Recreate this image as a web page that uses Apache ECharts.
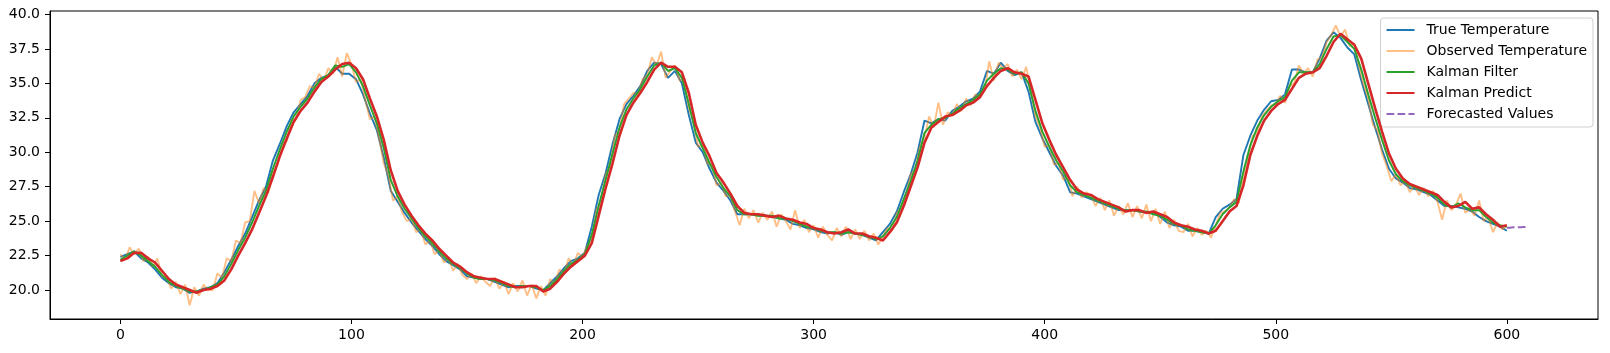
<!DOCTYPE html>
<html>
<head>
<meta charset="utf-8">
<script src="https://cdn.jsdelivr.net/npm/echarts@6/dist/echarts.min.js"></script>
<style>
html,body{margin:0;padding:0;background:#fff;}
#chart{width:1610px;height:353px;}
</style>
</head>
<body>
<div id="chart"></div>
<script>
// Sampling steps (time index) of the typed arrays
const trueStep = 3;
const obsStep = 2;
const forecastStart = 600;

// True temperature, sampled every 3 time steps (0..600)
const trueTemp = [
22.4,22.6,22.8,22.3,22.0,21.5,20.9,20.5,20.2,20.1,
19.8,19.9,20.1,20.2,20.5,21.3,22.2,23.2,24.1,25.3,
26.5,27.5,29.4,30.6,31.9,32.9,33.5,34.1,35.0,35.4,
35.6,36.2,35.7,35.7,35.3,34.2,32.8,31.6,29.6,27.2,
26.4,25.6,24.9,24.3,23.7,23.2,22.6,22.1,21.8,21.5,
21.0,20.9,20.8,20.8,20.6,20.4,20.2,20.3,20.3,20.3,
20.1,20.0,20.5,21.0,21.6,22.1,22.3,22.7,24.6,26.9,
28.5,30.6,32.4,33.5,34.1,34.8,35.9,36.5,36.4,35.4,
35.9,35.0,32.7,30.7,30.0,28.8,27.8,27.2,26.5,25.5,
25.5,25.5,25.4,25.4,25.3,25.2,25.1,24.8,24.7,24.5,
24.4,24.2,24.1,24.2,24.0,24.2,24.1,24.0,23.8,23.6,
24.2,24.8,25.7,27.1,28.4,30.0,32.3,32.1,32.4,32.3,
33.0,33.3,33.7,33.9,34.4,35.9,35.7,36.5,35.9,35.6,
35.8,34.4,32.2,31.0,30.0,29.0,28.3,27.1,27.0,26.8,
26.6,26.4,26.2,26.0,25.8,25.8,25.8,25.7,25.6,25.6,
25.3,24.9,24.7,24.6,24.3,24.3,24.2,24.1,25.3,25.9,
26.2,26.6,29.8,31.2,32.3,33.1,33.7,33.8,34.2,36.0,
36.0,35.8,35.8,36.8,38.1,38.7,38.3,37.6,37.1,35.2,
33.5,31.8,30.2,28.8,28.1,27.8,27.4,27.3,27.1,26.9,
26.5,26.1,26.1,26.0,25.9,25.7,25.3,25.0,24.8,24.6,
24.3
];

// Observed temperature, sampled every 2 time steps (0..600)
const observedTemp = [
22.6,22.2,23.1,22.6,23.0,22.1,22.4,21.7,22.3,21.0,
20.9,20.1,20.6,19.7,20.4,18.9,20.2,19.6,20.4,20.0,
20.0,21.2,20.9,22.3,22.1,23.6,23.4,24.9,25.0,27.2,
26.3,27.4,27.0,28.6,29.1,30.6,30.8,32.3,32.4,33.8,
34.0,34.8,34.7,35.7,35.2,36.1,35.7,36.9,35.5,37.2,
36.4,35.1,35.3,33.8,32.4,32.6,31.0,29.2,28.3,26.5,
26.8,25.6,25.0,25.2,24.2,24.4,23.3,23.6,22.6,22.9,
22.0,22.3,21.4,21.9,21.1,20.8,21.2,20.5,21.0,20.6,
20.3,20.9,20.1,20.6,19.7,20.5,19.9,20.7,19.6,20.4,
19.4,20.3,19.6,20.8,20.4,21.5,21.2,22.3,21.8,22.7,
22.4,23.2,23.7,25.8,26.5,28.4,29.0,31.2,31.6,33.5,
33.9,34.3,34.2,35.3,35.6,36.9,36.3,37.3,35.4,35.9,
36.3,35.2,35.4,33.2,32.3,30.4,30.6,29.2,29.1,27.6,
27.8,26.8,26.9,25.7,24.7,25.9,25.2,25.8,24.9,25.6,
25.1,25.7,24.6,25.5,25.0,24.4,25.8,24.5,25.1,24.2,
24.7,23.8,24.6,24.0,23.6,24.5,23.9,24.6,23.7,24.4,
23.7,24.3,23.6,24.1,23.3,23.9,24.5,24.3,25.6,26.0,
26.8,28.4,28.7,30.4,31.1,32.6,31.8,33.6,32.0,32.9,
32.7,33.5,33.0,33.9,33.4,34.2,34.0,34.5,36.6,35.2,
36.5,36.1,36.4,35.5,36.0,35.3,36.2,34.5,32.6,31.8,
30.4,30.5,29.1,29.2,28.0,28.4,26.8,27.5,26.7,27.1,
26.9,26.1,26.7,25.8,26.5,25.4,26.1,25.5,26.3,25.3,
26.1,25.2,26.2,25.0,25.9,24.8,25.7,24.5,25.1,24.3,
24.2,24.8,23.9,24.5,24.0,24.3,23.8,24.7,25.6,25.7,
26.0,26.6,26.3,28.3,29.6,31.2,31.4,32.6,33.0,33.4,
33.5,34.1,33.6,34.8,35.0,36.3,35.7,36.1,35.5,36.7,
36.9,38.0,38.5,39.2,38.4,38.9,37.7,37.9,36.3,34.9,
33.9,32.0,31.6,29.9,29.0,27.9,28.4,27.6,27.9,27.1,
27.6,26.9,27.4,26.8,27.2,26.4,25.1,26.5,25.8,26.2,
27.0,25.6,25.9,25.4,26.5,25.0,25.3,24.2,24.9,24.4,
24.7
];

// Kalman filter estimate, sampled every 3 time steps (0..600)
const kalmanFilter = [
22.2,22.5,22.8,22.5,22.1,21.7,21.1,20.6,20.3,20.1,
19.9,19.9,20.0,20.2,20.4,21.0,21.9,22.9,23.8,24.9,
26.1,27.2,28.8,30.2,31.5,32.6,33.3,33.9,34.7,35.3,
35.6,36.3,36.2,36.4,35.8,34.8,33.4,32.1,30.3,28.0,
26.8,25.9,25.2,24.5,23.9,23.4,22.8,22.3,21.9,21.6,
21.2,20.9,20.8,20.8,20.7,20.5,20.3,20.2,20.3,20.3,
20.2,20.0,20.3,20.8,21.4,21.9,22.2,22.6,24.0,26.1,
28.0,29.9,31.8,33.1,33.9,34.6,35.5,36.3,36.5,35.9,
36.1,35.4,33.5,31.4,30.3,29.2,28.2,27.4,26.8,25.8,
25.5,25.5,25.4,25.4,25.4,25.2,25.2,25.0,24.8,24.6,
24.5,24.3,24.2,24.2,24.1,24.2,24.1,24.0,23.9,23.7,
23.9,24.5,25.3,26.6,27.9,29.4,31.4,32.0,32.4,32.5,
32.8,33.2,33.5,33.8,34.2,35.2,35.7,36.1,36.0,35.7,
35.8,35.0,33.0,31.5,30.4,29.4,28.6,27.6,27.1,26.9,
26.7,26.5,26.3,26.1,25.9,25.8,25.8,25.7,25.7,25.5,
25.4,25.1,24.8,24.7,24.4,24.3,24.2,24.1,24.7,25.5,
26.0,26.4,28.6,30.5,31.8,32.7,33.3,33.7,34.0,35.2,
35.8,35.8,35.8,36.4,37.5,38.4,38.5,38.0,37.5,36.0,
34.2,32.5,30.9,29.4,28.4,27.9,27.6,27.4,27.2,27.0,
26.7,26.2,26.0,26.3,26.0,25.8,25.8,25.3,24.9,24.7,
24.6
];

// Kalman one-step prediction, sampled every 3 time steps (0..600)
const kalmanPredict = [
22.1,22.3,22.7,22.7,22.3,22.0,21.4,20.8,20.4,20.2,
20.0,19.8,20.0,20.1,20.3,20.7,21.5,22.5,23.4,24.4,
25.6,26.8,28.2,29.7,31.0,32.2,33.0,33.6,34.4,35.1,
35.5,36.0,36.4,36.5,36.1,35.3,33.9,32.6,30.9,28.7,
27.2,26.2,25.4,24.7,24.1,23.6,23.0,22.5,22.0,21.7,
21.3,21.0,20.9,20.8,20.8,20.6,20.4,20.2,20.2,20.3,
20.3,19.9,20.1,20.6,21.2,21.7,22.1,22.5,23.4,25.4,
27.4,29.2,31.2,32.7,33.6,34.3,35.1,36.0,36.5,36.2,
36.2,35.8,34.3,32.0,30.7,29.7,28.5,27.8,27.0,26.1,
25.6,25.5,25.5,25.4,25.3,25.4,25.2,25.1,24.9,24.8,
24.5,24.4,24.2,24.1,24.2,24.4,24.1,24.1,23.9,23.8,
23.6,24.2,24.9,26.1,27.5,28.9,30.7,31.8,32.2,32.6,
32.7,33.0,33.4,33.6,34.0,34.8,35.4,35.9,36.1,35.8,
35.7,35.5,33.8,32.1,30.9,29.8,28.9,28.0,27.3,27.0,
26.9,26.6,26.4,26.2,26.0,25.7,25.8,25.8,25.6,25.7,
25.5,25.3,24.9,24.7,24.6,24.4,24.3,24.1,24.3,25.0,
25.7,26.1,27.6,29.8,31.2,32.3,33.0,33.5,33.8,34.6,
35.4,35.7,35.8,36.1,37.0,38.0,38.6,38.2,37.8,36.8,
35.0,33.2,31.5,29.9,28.8,28.1,27.7,27.5,27.3,27.1,
26.9,26.4,26.0,26.1,26.4,25.9,26.0,25.5,25.1,24.6,
24.7
];

// Forecasted values, one per time step from 600
const forecastValues = [24.52,24.53,24.54,24.55,24.55,24.56,24.56,24.57,24.57,24.58];

// Axis ticks
const xTicks = [0,100,200,300,400,500,600];
const yTicks = [20.0,22.5,25.0,27.5,30.0,32.5,35.0,37.5,40.0];

const legendNames = ['True Temperature','Observed Temperature','Kalman Filter','Kalman Predict','Forecasted Values'];

const toPairs = (arr, step, start) => arr.map((v, i) => [start + i * step, v]);

const chart = echarts.init(document.getElementById('chart'), null, {renderer:'canvas'});
const font = 'DejaVu Sans, sans-serif';

const option = {
  animation: false,
  backgroundColor: '#fff',
  grid: {left: 50, right: 12, top: 11, bottom: 34, show: true, borderColor: '#000', borderWidth: 1, backgroundColor: 'transparent'},
  xAxis: {
    type: 'value', min: -30.45, max: 639.45,
    axisLine: {show: true, onZero: false, lineStyle: {color: '#000', width: 1}},
    axisTick: {show: true, customValues: xTicks, length: 5, lineStyle: {color: '#000', width: 1}},
    axisLabel: {customValues: xTicks, color: '#000', fontSize: 14, fontFamily: font, margin: 9},
    splitLine: {show: false}
  },
  yAxis: {
    type: 'value', min: 17.9, max: 40.25,
    axisLine: {show: true, onZero: false, lineStyle: {color: '#000', width: 1}},
    axisTick: {show: true, customValues: yTicks, length: 5, lineStyle: {color: '#000', width: 1}},
    axisLabel: {customValues: yTicks, color: '#000', fontSize: 14, fontFamily: font, margin: 10, formatter: v => Number(v).toFixed(1)},
    splitLine: {show: false}
  },
  legend: {
    orient: 'vertical', right: 17, top: 18,
    itemWidth: 28, itemHeight: 14, itemGap: 7,
    padding: [5, 6, 6, 5],
    borderColor: '#d0d0d0', borderWidth: 1, borderRadius: 3,
    backgroundColor: 'rgba(255,255,255,0.8)',
    itemStyle: {opacity: 0},
    textStyle: {fontSize: 14, fontFamily: font, color: '#000', padding: [0, 0, 0, 7], lineHeight: 14},
    data: legendNames
  },
  series: [
    {name: legendNames[0], type: 'line', data: toPairs(trueTemp, trueStep, 0), symbol: 'none', showSymbol: false,
     color: '#1f77b4', lineStyle: {color: '#1f77b4', width: 1.9}, z: 2},
    {name: legendNames[1], type: 'line', data: toPairs(observedTemp, obsStep, 0), symbol: 'none', showSymbol: false,
     color: 'rgba(255,127,14,0.5)', lineStyle: {color: 'rgba(255,127,14,0.5)', width: 1.9}, z: 3},
    {name: legendNames[2], type: 'line', data: toPairs(kalmanFilter, trueStep, 0), symbol: 'none', showSymbol: false,
     color: '#2ca02c', lineStyle: {color: '#2ca02c', width: 2.0}, z: 4},
    {name: legendNames[3], type: 'line', data: toPairs(kalmanPredict, trueStep, 0), symbol: 'none', showSymbol: false,
     color: '#d62728', lineStyle: {color: '#d62728', width: 2.6}, z: 5},
    {name: legendNames[4], type: 'line', data: toPairs(forecastValues, 1, forecastStart), symbol: 'none', showSymbol: false,
     color: '#9467bd', lineStyle: {color: '#9467bd', width: 2.0, type: [7.7, 3.3]}, z: 6}
  ]
};
chart.setOption(option);
</script>
</body>
</html>
